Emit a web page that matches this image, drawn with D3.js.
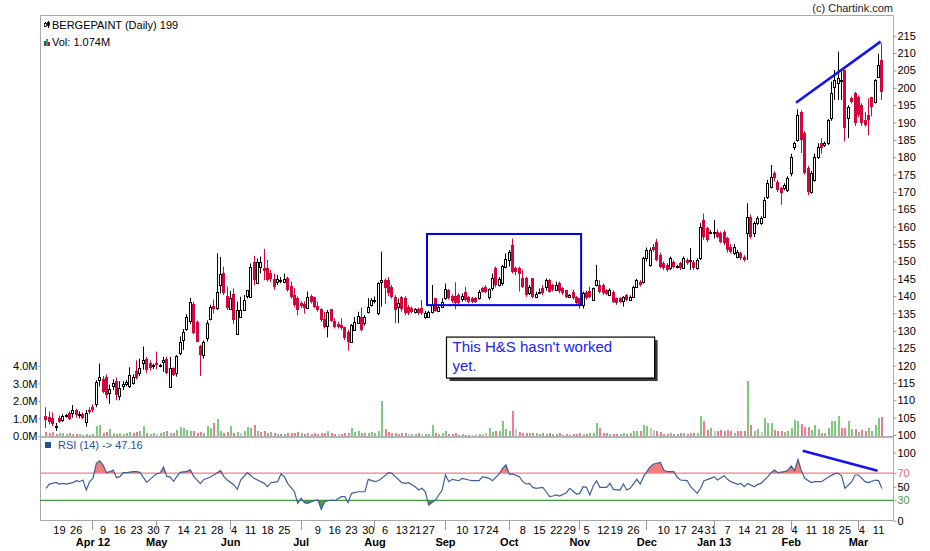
<!DOCTYPE html>
<html><head><meta charset="utf-8">
<script src="https://cdn.jsdelivr.net/npm/d3@7"></script>
<style>
body{margin:0;background:#fff;}
svg{display:block;font-family:"Liberation Sans",Arial,sans-serif;}
</style></head><body>
<svg id="c" width="930" height="551"></svg>
<script>
// ---- data ----
const symbol = "BERGEPAINT (Daily) 199";
const volLabel = "Vol: 1.074M";
const rsiLabel = "RSI (14) -> 47.16";
const firstDay = "2012-03-13", endDay = "2013-03-13";
const holidays = ["2012-04-05","2012-04-06","2012-05-01","2012-08-15","2012-08-20","2012-09-19","2012-10-02","2012-10-24","2012-11-14","2012-11-28","2012-12-25"];

const open = [
105.5,105.3,104.8,102.2,105.0,104.3,105.5,106.3,106.2,107.2,
105.9,106.0,103.8,107.2,108.2,109.0,115.8,116.1,116.8,112.0,
114.0,115.5,111.3,114.0,114.8,114.2,115.0,118.5,117.8,120.8,
122.0,120.6,119.8,120.6,119.8,120.9,122.0,113.9,119.2,118.0,
123.7,127.4,130.4,132.9,137.7,132.6,125.6,123.0,127.8,133.3,
137.1,136.5,143.2,146.8,140.0,136.2,140.6,129.0,133.9,136.0,
140.0,139.8,149.9,143.7,148.3,148.0,148.2,146.8,144.8,144.0,
144.3,144.1,145.1,142.9,140.3,139.4,137.9,137.7,136.5,140.1,
139.8,137.2,136.2,133.3,131.4,136.2,132.9,132.0,131.7,131.0,
129.8,126.9,130.2,132.2,134.0,132.2,135.5,137.4,138.7,135.0,
144.0,144.6,144.6,142.7,139.8,136.8,139.7,139.4,137.0,136.5,
135.5,136.2,136.5,134.1,133.9,135.5,139.4,135.8,137.0,139.4,
141.8,140.0,140.0,140.3,139.1,141.3,139.7,139.4,139.4,139.4,
142.2,142.7,139.7,142.2,148.0,143.2,143.7,148.5,150.4,154.7,
148.0,148.0,145.1,145.1,140.8,145.1,139.8,141.1,142.2,142.7,
144.6,143.2,141.8,143.7,142.2,141.8,139.8,141.3,139.8,139.4,
137.4,141.3,141.6,138.9,143.2,143.2,143.2,141.8,140.3,141.3,
139.4,139.4,138.7,140.3,138.9,139.8,142.7,144.2,144.2,150.9,
149.0,154.2,155.7,151.8,149.4,149.0,148.0,149.9,148.4,149.4,
148.0,150.4,150.2,149.9,148.0,150.9,161.9,159.5,158.5,158.5,
158.6,158.1,158.6,156.6,154.2,152.3,151.4,152.3,151.4,158.1,
162.9,158.1,161.0,161.0,162.9,168.6,171.5,175.4,173.0,171.0,
171.0,170.6,175.4,183.0,185.0,193.1,186.9,176.8,170.1,173.4,
180.2,184.0,183.5,184.0,191.2,200.3,201.3,202.0,205.1,191.2,
197.0,198.4,197.4,195.0,190.7,192.2,197.4,196.0,203.2,208.0];

const high = [
108.0,106.8,106.5,103.5,105.6,106.0,106.0,106.8,108.6,107.6,
106.8,106.5,107.2,108.0,108.8,115.8,120.6,117.0,117.5,114.5,
116.0,116.5,115.5,115.5,115.8,119.5,117.5,121.5,122.0,125.5,
122.5,121.5,120.5,124.0,120.5,122.5,122.5,122.5,119.5,123.0,
128.4,130.5,134.8,139.5,138.4,133.0,126.0,127.2,133.0,137.5,
139.0,152.3,151.3,148.5,142.7,141.5,142.2,138.4,139.8,140.3,
141.8,149.4,151.6,150.8,151.4,153.6,150.4,147.5,146.5,146.1,
145.5,146.5,145.6,144.2,142.3,139.9,138.5,138.5,141.3,140.5,
139.8,138.4,136.5,135.5,136.0,136.2,133.6,132.6,133.6,131.2,
130.3,132.0,134.0,135.5,136.7,134.5,139.4,139.4,139.9,144.0,
152.8,145.1,145.5,143.2,140.3,139.3,140.0,140.0,137.4,137.0,
136.5,136.7,138.9,135.7,135.8,143.2,139.4,137.5,139.4,143.6,
142.0,140.5,144.0,140.8,140.8,142.7,140.0,139.8,139.8,141.8,
142.7,143.2,142.2,146.5,148.5,145.5,149.0,152.3,153.3,156.6,
148.5,148.5,147.6,145.6,143.2,145.1,141.3,142.2,143.2,145.1,
145.0,143.6,144.2,144.2,142.6,141.8,140.6,141.8,140.0,139.4,
141.3,141.6,142.7,142.5,149.0,144.6,143.6,142.0,142.2,141.6,
139.6,139.7,140.0,140.6,140.2,143.0,145.0,144.6,151.3,154.0,
154.0,155.0,156.5,152.5,150.0,149.5,151.4,150.4,149.0,149.9,
151.4,150.9,153.8,150.4,150.9,161.0,163.8,160.0,159.0,161.9,
159.2,158.6,159.0,157.1,155.0,155.0,153.3,152.8,151.8,166.7,
163.5,161.5,163.0,163.0,168.5,173.5,177.8,176.0,173.5,171.5,
172.5,174.5,181.0,184.5,193.8,193.5,187.5,177.5,176.0,181.0,
184.0,185.5,184.5,191.0,201.8,205.1,210.4,205.1,205.1,195.0,
197.5,198.8,197.8,195.5,193.0,197.0,197.4,202.5,209.8,212.8];

const low = [
102.0,103.0,102.5,101.2,103.5,103.8,105.0,104.3,105.0,105.0,
104.8,104.5,102.4,106.0,106.5,108.0,114.0,112.0,110.5,109.0,
113.0,110.0,110.0,113.0,114.0,113.5,114.5,116.0,117.0,118.8,
117.8,118.5,119.0,119.0,119.5,118.2,117.5,113.9,117.0,116.8,
123.0,124.5,130.0,132.0,129.0,126.9,117.0,122.0,126.9,133.0,
135.0,136.0,140.8,140.3,136.0,136.0,132.0,129.0,133.9,136.0,
139.3,139.8,143.2,143.7,146.5,144.6,144.2,144.0,141.8,143.2,
143.7,143.7,141.3,139.3,136.9,134.5,136.5,135.0,136.5,137.9,
136.5,135.5,132.6,130.7,128.1,132.6,130.7,130.7,130.2,127.3,
124.3,126.9,130.2,132.2,129.8,131.5,135.0,137.0,137.9,134.5,
137.0,137.8,140.0,139.3,132.2,132.2,135.5,134.5,134.5,135.0,
135.0,134.6,134.6,133.5,133.9,135.0,135.5,135.5,136.8,138.9,
139.0,138.0,136.2,137.5,138.4,138.4,138.0,138.0,138.0,139.0,
141.0,140.8,139.0,141.6,142.5,142.8,143.0,148.0,148.5,146.5,
146.0,141.3,142.3,139.8,140.3,139.4,139.4,140.8,140.3,141.6,
141.0,141.3,141.6,140.8,140.4,139.4,139.5,139.0,137.4,136.4,
136.4,139.0,139.4,138.6,142.8,140.8,140.3,140.3,140.0,138.0,
137.5,138.0,137.0,138.5,138.6,139.5,142.5,142.8,143.6,150.0,
148.5,152.8,150.0,148.0,147.5,147.0,147.5,148.0,148.0,147.5,
147.8,149.0,147.5,147.5,147.6,150.4,156.2,155.5,158.0,156.6,
156.6,155.2,154.7,152.5,152.3,151.8,150.9,150.4,149.9,150.4,
156.5,157.0,160.5,160.5,162.5,168.0,171.0,173.0,170.0,166.3,
170.5,170.0,174.5,182.0,184.5,181.2,175.0,169.1,169.5,173.0,
179.5,181.0,183.0,183.5,190.5,196.5,196.5,196.5,184.5,185.5,
195.5,189.0,191.5,189.0,188.8,186.4,191.8,195.5,202.8,196.5];

const close = [
104.3,103.8,103.2,102.5,103.8,105.6,105.7,104.7,107.2,105.8,
106.1,105.0,106.2,106.7,107.2,115.3,116.8,112.5,111.5,113.2,
115.0,111.5,113.4,114.8,115.2,117.3,116.8,116.3,119.2,121.6,
118.7,119.2,120.1,120.1,120.2,121.6,117.8,119.2,117.3,122.8,
126.9,129.8,133.9,138.4,129.3,126.9,123.0,126.9,132.2,137.0,
136.2,141.3,146.4,140.8,136.5,139.4,133.1,136.0,136.0,138.9,
141.8,148.5,144.6,149.9,149.7,147.3,144.6,144.8,142.7,144.8,
144.6,144.8,141.8,139.8,137.4,136.0,137.2,136.5,139.8,138.4,
137.0,136.0,133.1,131.0,135.5,132.9,131.2,131.2,130.7,127.8,
126.9,131.7,132.6,134.3,130.2,134.1,137.0,138.9,139.0,143.7,
144.5,142.2,140.8,139.8,136.0,137.9,136.2,135.0,135.0,135.5,
136.2,135.0,135.0,135.2,135.5,137.4,135.8,137.0,138.4,142.0,
139.4,138.7,138.1,137.9,140.0,138.9,138.4,138.4,138.4,141.3,
141.3,141.3,142.0,145.1,143.2,144.8,148.7,150.6,152.8,147.0,
147.0,146.4,142.7,140.3,142.7,139.8,140.6,141.3,140.8,144.6,
141.3,141.8,143.2,141.6,140.8,139.8,140.3,139.4,137.9,137.2,
140.8,139.4,139.8,142.2,144.6,141.3,140.8,140.6,141.8,138.4,
137.9,138.4,139.8,138.9,139.8,142.7,144.6,143.2,150.9,153.3,
153.3,153.3,150.4,148.5,148.0,147.5,150.9,148.5,148.6,148.0,
150.9,149.4,150.4,148.0,150.4,160.0,157.1,156.1,158.6,158.6,
157.1,155.7,155.2,153.3,152.8,154.2,152.8,150.9,150.4,162.9,
157.1,161.0,162.4,162.4,167.7,172.5,174.4,173.9,170.6,169.6,
172.0,173.9,180.2,184.0,192.2,185.0,175.4,170.1,175.4,180.2,
183.0,182.6,184.0,190.7,198.4,202.2,202.7,202.2,188.3,194.6,
196.0,189.8,192.2,189.8,189.3,190.7,194.6,202.2,206.6,198.9];

// volume in millions
const volume = [
0.25,0.15,0.25,0.10,0.20,0.15,0.10,0.15,0.12,0.10,
0.10,0.08,0.10,0.08,0.12,0.55,0.65,0.20,0.25,0.40,
0.15,0.12,0.20,0.12,0.15,0.22,0.18,0.25,0.30,0.55,
0.15,0.12,0.15,0.10,0.15,0.25,0.30,0.20,0.18,0.35,
0.50,0.45,0.35,0.30,0.28,0.20,0.25,0.15,0.55,0.45,
0.77,0.98,0.30,0.20,0.25,0.58,0.20,0.25,0.15,0.30,
0.50,0.45,0.64,0.30,0.25,0.30,0.20,0.25,0.15,0.12,
0.10,0.12,0.18,0.15,0.20,0.25,0.15,0.10,0.18,0.12,
0.15,0.12,0.20,0.18,0.30,0.15,0.10,0.12,0.10,0.15,
0.20,0.45,0.25,0.30,0.20,0.20,0.15,0.22,0.15,0.30,
1.98,0.40,0.25,0.18,0.15,0.12,0.15,0.18,0.12,0.10,
0.12,0.15,0.10,0.12,0.10,0.64,0.20,0.12,0.18,0.30,
0.12,0.10,0.15,0.08,0.10,0.08,0.06,0.08,0.10,0.10,
0.12,0.15,0.45,0.22,0.28,0.30,0.83,0.40,0.30,1.45,
0.40,0.25,0.20,0.15,0.18,0.20,0.15,0.10,0.18,0.12,
0.15,0.10,0.12,0.15,0.08,0.10,0.08,0.10,0.12,0.15,
0.10,0.12,0.20,0.15,0.77,0.45,0.20,0.15,0.12,0.10,
0.12,0.10,0.15,0.10,0.20,0.28,0.30,0.30,0.64,0.55,
0.45,0.35,0.30,0.25,0.12,0.10,0.15,0.10,0.12,0.15,
0.18,0.12,0.20,0.15,0.18,1.12,0.83,0.35,0.45,0.30,
0.30,0.35,0.30,0.35,0.30,0.20,0.30,0.28,0.30,3.14,
0.64,0.30,0.40,0.25,1.02,0.77,0.77,0.35,0.30,0.30,
0.25,0.30,0.45,0.92,0.88,0.67,0.50,0.50,0.35,0.64,
0.40,0.20,0.20,0.45,0.83,0.83,1.16,0.45,0.45,0.83,
0.40,0.40,0.25,0.35,0.30,0.45,0.30,0.60,1.02,1.07];

// RSI(14) readings: [trading-day index, value]
const rsi = [
[0,47.6],[1,53.9],[3,56.4],[4,53.9],[5,54.9],[6,53.9],[8,55.9],[9,58.8],[10,57.4],[11,59.8],
[12,45.1],[13,57.4],[14,62.3],[15,84.3],[16,88.2],[17,81.9],[18,70.6],[19,72.1],[20,74.5],[21,63.3],
[22,64.8],[23,70.6],[24,70.6],[26,72.1],[27,72.1],[28,71.1],[30,56.4],[32,65.2],[33,69.1],[34,70.1],
[35,78.9],[36,65.2],[37,64.2],[38,57.9],[39,65.2],[40,71.1],[42,72.5],[43,75.0],[44,65.2],[46,54.4],
[47,60.3],[49,64.2],[50,67.2],[52,73.6],[53,64.8],[54,59.8],[56,52.5],[57,46.1],[58,59.8],[60,70.6],
[62,62.3],[63,59.8],[65,54.9],[66,50.0],[67,55.9],[69,57.4],[70,68.6],[71,64.8],[72,54.9],[74,42.6],
[75,25.5],[76,32.9],[77,26.5],[78,25.5],[79,28.0],[80,29.4],[81,30.4],[82,16.7],[83,28.0],[85,30.4],
[86,29.4],[88,35.3],[89,35.3],[90,26.5],[91,40.2],[92,41.2],[93,42.6],[95,42.6],[96,60.8],[98,57.4],
[99,58.8],[100,62.3],[102,70.6],[103,69.6],[106,56.0],[107,55.0],[108,56.0],[110,50.0],[111,45.1],[112,47.6],
[113,42.6],[114,23.0],[116,30.4],[117,37.8],[118,45.1],[119,67.2],[120,57.4],[121,60.8],[123,58.8],[124,62.3],
[126,59.8],[127,58.9],[129,58.9],[130,64.8],[132,62.3],[133,58.9],[135,68.7],[136,77.0],[137,82.0],[138,68.2],
[139,68.7],[141,64.8],[142,57.4],[143,54.0],[144,54.9],[145,49.0],[146,47.6],[148,49.0],[149,42.6],[150,35.3],
[151,36.3],[152,37.8],[153,36.3],[155,41.2],[156,47.6],[158,39.2],[159,40.2],[160,50.0],[161,49.0],[162,37.8],
[163,51.0],[164,58.9],[165,49.0],[167,49.0],[168,54.9],[169,46.1],[171,45.1],[172,54.0],[173,45.1],[174,47.6],
[176,60.8],[177,54.0],[178,64.8],[180,79.5],[181,83.4],[183,85.8],[184,74.5],[185,72.1],[187,72.1],[188,63.8],
[189,59.8],[191,58.9],[192,50.0],[194,40.2],[195,47.6],[196,58.9],[198,62.3],[199,64.8],[200,59.8],[202,66.2],
[203,60.8],[204,57.4],[206,53.4],[207,54.9],[208,50.0],[209,54.9],[211,50.0],[212,53.4],[213,54.9],[215,64.8],
[216,70.6],[217,74.5],[218,70.6],[220,72.1],[221,74.5],[222,80.4],[223,73.6],[224,90.2],[225,73.6],[226,62.3],
[228,56.0],[229,57.4],[231,57.4],[233,63.8],[235,69.6],[236,69.6],[237,65.7],[238,47.6],[240,57.4],[241,67.2],
[242,67.2],[244,57.4],[245,56.0],[247,59.8],[248,58.9],[249,47.16]];

const priceTicks = d3.range(100, 216, 5);
const volTicks = [0, 1, 2, 3, 4];
const rsiTicks = [0, 30, 50, 70, 100];
const rsiLevels = [70, 30];

// annotations in data coordinates [index, value]
const priceTrend = [[223.4, 195.7], [248.6, 213.3]];
const rsiTrend = [[225.4, 102.9], [247.7, 73.5]];
const hsBox = [[113.5, 157.9], [159.4, 137.4]];
const noteBox = [[119.3, 128.2], [181.3, 116.4]];
const noteLines = ["This H&S hasn't worked", "yet."];

// ---- chart ----
const svg = d3.select("#c");
const L = 40, R = 893, T = 15, B = 520;
const fmtISO = d3.timeFormat("%Y-%m-%d");
const parse = d3.timeParse("%Y-%m-%d");
const dates = d3.timeDay.range(parse(firstDay), parse(endDay))
  .filter(d => d.getDay() > 0 && d.getDay() < 6 && !holidays.includes(fmtISO(d)));
const n = Math.min(dates.length, close.length);

const x = d3.scaleBand().domain(d3.range(n)).range([44.3, 883.6]).padding(0);
const step = x.step();
const xc = i => x(0) + step / 2 + i * step;
const px = i => Math.floor(x(i) + step / 2);
const y = d3.scaleLinear().domain([100, 215]).range([435, 35.7]);
const yv = d3.scaleLinear().domain([0, 4]).range([436, 366]);
const yr = d3.scaleLinear().domain([0, 100]).range([520.7, 452.7]);

const RED = "#d4043c", GREEN_V = "#7fc97f", RED_V = "#ec7d8e";

// frame
svg.append("path")
  .attr("d", `M${L + .5},${T + .5}H${R + .5}V${B + .5}H${L + .5}Z`)
  .attr("fill", "none").attr("stroke", "#a8a8a8");
svg.append("rect").attr("x", L).attr("y", 436).attr("width", R - L + 1).attr("height", 2).attr("fill", "#b4b4b4");

// copyright
svg.append("text").attr("x", R).attr("y", 12).attr("text-anchor", "end")
  .attr("font-size", 11).attr("fill", "#222").text("(c) Chartink.com");

// volume bars
svg.append("g").attr("shape-rendering", "crispEdges")
  .selectAll("rect").data(d3.range(n)).join("rect")
  .attr("x", i => px(i)).attr("width", 2)
  .attr("y", i => Math.round(yv(volume[i])))
  .attr("height", i => Math.max(1, 436 - Math.round(yv(volume[i]))))
  .attr("fill", i => {
    const prev = i === 0 ? open[0] : close[i - 1];
    return close[i] > prev ? GREEN_V : close[i] < prev ? RED_V : "#c8c8c8";
  });

// candles
const up = i => close[i] >= open[i];
const cg = svg.append("g");
cg.selectAll("line").data(d3.range(n)).join("line")
  .attr("x1", i => px(i) + .5).attr("x2", i => px(i) + .5)
  .attr("y1", i => y(high[i])).attr("y2", i => y(low[i]))
  .attr("stroke", i => up(i) ? "#000" : RED).attr("stroke-width", 1);
cg.selectAll("rect").data(d3.range(n)).join("rect")
  .each(function (i) {
    const top = Math.round(y(Math.max(open[i], close[i])));
    const bot = Math.round(y(Math.min(open[i], close[i])));
    const s = d3.select(this);
    if (up(i)) {
      s.attr("x", px(i) - .5).attr("y", top + .5).attr("width", 2)
        .attr("height", Math.max(1, bot - top)).attr("fill", "#fff")
        .attr("stroke", "#000").attr("stroke-width", 1);
    } else {
      s.attr("x", px(i) - 1).attr("y", top).attr("width", 3)
        .attr("height", Math.max(1, bot - top)).attr("fill", RED);
    }
  });

// price axis (right)
const pa = svg.append("g").attr("transform", `translate(${R + .5},0)`)
  .call(d3.axisRight(y).tickValues(priceTicks).tickSize(3).tickPadding(1));
pa.select(".domain").remove();
pa.selectAll("line").attr("stroke", "#999");
pa.selectAll("text").attr("font-size", 11).attr("font-family", "Liberation Sans, Arial, sans-serif").attr("fill", "#000");

// volume axis (left)
const va = svg.append("g").attr("transform", `translate(${L + .5},0)`)
  .call(d3.axisLeft(yv).tickValues(volTicks).tickFormat(d => d.toFixed(1) + "M").tickSize(2).tickPadding(1));
va.select(".domain").remove();
va.selectAll("line").attr("stroke", "#999");
va.selectAll("text").attr("font-size", 11).attr("font-family", "Liberation Sans, Arial, sans-serif").attr("fill", "#000");

// legends
const lg = svg.append("g");
lg.append("text").attr("x", 52).attr("y", 29).attr("font-size", 11).attr("fill", "#000").text(symbol);
lg.append("text").attr("x", 52).attr("y", 46).attr("font-size", 11).attr("fill", "#000").text(volLabel);
// candle icon
[[45, 22, 27], [48, 21, 28]].forEach(([ix, a, b], k) => {
  lg.append("line").attr("x1", ix + .5).attr("x2", ix + .5).attr("y1", a).attr("y2", b).attr("stroke", "#000");
  lg.append("rect").attr("x", ix - .5).attr("y", a + 1.5).attr("width", 2).attr("height", 3)
    .attr("fill", k ? "#000" : "#fff").attr("stroke", "#000").attr("stroke-width", .8);
});
// volume icon
[["#2a4f8f", 44, 41], ["#3aa33a", 46, 39], ["#d4043c", 48, 42]].forEach(([c, ix, top]) => {
  lg.append("rect").attr("x", ix).attr("y", top).attr("width", 2).attr("height", 46 - top).attr("fill", c);
});

// RSI panel
const RSI_BLUE = "#3c5f9c";
svg.append("rect").attr("x", 45).attr("y", 442).attr("width", 6).attr("height", 6).attr("fill", "#2a4f8f");
svg.append("text").attr("x", 58).attr("y", 449).attr("font-size", 11).attr("fill", "#2a4f8f").text(rsiLabel);

const defs = svg.append("defs");
defs.append("clipPath").attr("id", "ob").append("rect")
  .attr("x", L).attr("y", 438).attr("width", R - L).attr("height", yr(70) - 438);
defs.append("clipPath").attr("id", "os").append("rect")
  .attr("x", L).attr("y", yr(30)).attr("width", R - L).attr("height", B - yr(30));
svg.append("path").datum(rsi).attr("clip-path", "url(#ob)").attr("fill", "#f47b7b")
  .attr("d", d3.area().x(d => xc(d[0])).y0(yr(70)).y1(d => yr(d[1])));
svg.append("path").datum(rsi).attr("clip-path", "url(#os)").attr("fill", "#4c9b4c")
  .attr("d", d3.area().x(d => xc(d[0])).y0(yr(30)).y1(d => yr(d[1])));
svg.append("line").attr("x1", L).attr("x2", R).attr("y1", yr(70)).attr("y2", yr(70)).attr("stroke", "#f08080").attr("stroke-width", 1.2);
svg.append("line").attr("x1", L).attr("x2", R).attr("y1", yr(30)).attr("y2", yr(30)).attr("stroke", "#3f9a3f").attr("stroke-width", 1.2);
svg.append("path").datum(rsi).attr("fill", "none").attr("stroke", RSI_BLUE).attr("stroke-width", 1.2)
  .attr("d", d3.line().x(d => xc(d[0])).y(d => yr(d[1])));

const ra = svg.append("g").attr("transform", `translate(${R + .5},0)`)
  .call(d3.axisRight(yr).tickValues(rsiTicks).tickSize(3).tickPadding(1));
ra.select(".domain").remove();
ra.selectAll("line").attr("stroke", "#999");
ra.selectAll("text").attr("font-size", 11).attr("font-family", "Liberation Sans, Arial, sans-serif")
  .attr("fill", d => d === 70 ? "#e06a6a" : d === 30 ? "#4c9b4c" : "#000");

// x axis: week labels and month ticks
const fmtDay = d3.timeFormat("%-d"), fmtMon = d3.timeFormat("%b"), fmtYr = d3.timeFormat("%y");
const weekIdx = [], monthIdx = [];
for (let i = 1; i < n; i++) {
  const d = dates[i], p = dates[i - 1];
  if (d.getMonth() !== p.getMonth()) monthIdx.push(i);
  else if (+d3.timeMonday.floor(d) !== +d3.timeMonday.floor(p)) weekIdx.push(i);
}
const xa = svg.append("g").attr("font-size", 11).attr("fill", "#000");
xa.selectAll("text.w").data(weekIdx).join("text").attr("class", "w")
  .attr("x", i => xc(i)).attr("y", 534).attr("text-anchor", "middle").text(i => fmtDay(dates[i]));
xa.selectAll("line.m").data(monthIdx).join("line").attr("class", "m")
  .attr("x1", i => px(i) + .5).attr("x2", i => px(i) + .5).attr("y1", B).attr("y2", 530)
  .attr("stroke", "#999");
xa.selectAll("text.m").data(monthIdx).join("text").attr("class", "m")
  .attr("x", i => xc(i)).attr("y", 546).attr("text-anchor", "middle").attr("font-weight", "bold")
  .text((i, k) => fmtMon(dates[i]) + ((k === 0 || dates[i].getMonth() === 0) ? " " + fmtYr(dates[i]) : ""));

// annotations
const BLUE = "#1414ee";
svg.append("line")
  .attr("x1", xc(priceTrend[0][0])).attr("y1", y(priceTrend[0][1]))
  .attr("x2", xc(priceTrend[1][0])).attr("y2", y(priceTrend[1][1]))
  .attr("stroke", BLUE).attr("stroke-width", 2.6);
svg.append("line")
  .attr("x1", xc(rsiTrend[0][0])).attr("y1", yr(rsiTrend[0][1]))
  .attr("x2", xc(rsiTrend[1][0])).attr("y2", yr(rsiTrend[1][1]))
  .attr("stroke", BLUE).attr("stroke-width", 2.6);
svg.append("rect")
  .attr("x", xc(hsBox[0][0])).attr("y", y(hsBox[0][1]))
  .attr("width", xc(hsBox[1][0]) - xc(hsBox[0][0])).attr("height", y(hsBox[1][1]) - y(hsBox[0][1]))
  .attr("fill", "none").attr("stroke", "#0000ee").attr("stroke-width", 2);
const nx0 = xc(noteBox[0][0]), ny0 = y(noteBox[0][1]), nx1 = xc(noteBox[1][0]), ny1 = y(noteBox[1][1]);
svg.append("rect").attr("x", nx0 + 3).attr("y", ny0 + 3).attr("width", nx1 - nx0).attr("height", ny1 - ny0).attr("fill", "#3a3a3a");
svg.append("rect").attr("x", nx0).attr("y", ny0).attr("width", nx1 - nx0).attr("height", ny1 - ny0)
  .attr("fill", "#fff").attr("stroke", "#000").attr("stroke-width", 1.2);
svg.append("g").selectAll("text").data(noteLines).join("text")
  .attr("x", nx0 + 6).attr("y", (d, k) => ny0 + 15 + k * 18.5)
  .attr("font-size", 15).attr("fill", "#2222ee").text(d => d);
</script>
</body></html>
